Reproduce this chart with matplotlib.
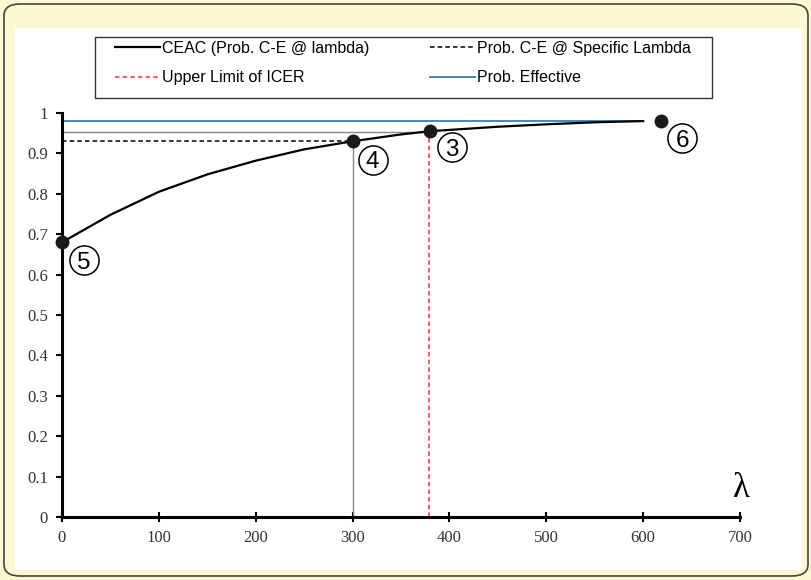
import numpy as np
import matplotlib
matplotlib.use("Agg")
import matplotlib.pyplot as plt
from matplotlib.patches import FancyBboxPatch, Rectangle
from matplotlib.transforms import offset_copy

# CEAC curve
lam = [0, 50, 100, 150, 200, 250, 300, 350, 380, 450, 500, 550, 600]
ceac = [0.68, 0.748, 0.805, 0.848, 0.882, 0.91, 0.93, 0.947, 0.955, 0.966, 0.972, 0.977, 0.98]

# marked points and their labels
pt_x = [380, 300, 0, 618]
pt_y = [0.955, 0.93, 0.68, 0.98]
pt_lab = ["3", "4", "5", "6"]

lam_specific = 300
p_specific = 0.93
icer_limit = 379
p_icer = 0.953
p_effective = 0.98

fig = plt.figure(figsize=(8.12, 5.8), dpi=100)
fig.patch.set_facecolor("#fdf8d2")

# rounded outer frame and white panel
fig.patches.append(Rectangle((15 / 812, 10 / 580), 787 / 812, 542 / 580,
                             transform=fig.transFigure, facecolor="white",
                             edgecolor="none", zorder=-2))
fig.patches.append(FancyBboxPatch((4 / 812, 4 / 580), 804 / 812, 572 / 580,
                                  boxstyle="round,pad=0,rounding_size=0.02",
                                  transform=fig.transFigure, facecolor="none",
                                  edgecolor="#444444", linewidth=1.2, zorder=-1))
# legend frame
fig.patches.append(Rectangle((95 / 812, 1 - 98 / 580), 617 / 812, 61 / 580,
                             transform=fig.transFigure, facecolor="white",
                             edgecolor="#333333", linewidth=1.0, zorder=-1))

ax = fig.add_axes([62 / 812, 1 - 517 / 580, 678 / 812, 404 / 580])
ax.set_facecolor("white")

l1, = ax.plot(lam, ceac, color="black", lw=1.6, zorder=4)
l2, = ax.plot([0, lam_specific], [p_specific, p_specific], color="black", lw=1.1, ls=(0, (3, 2)))
ax.plot([lam_specific, lam_specific], [0, p_specific], color="#888888", lw=1.0)
l3, = ax.plot([icer_limit, icer_limit], [0, p_icer], color="#e8323c", lw=1.1, ls=(0, (3, 2)))
ax.plot([0, icer_limit], [p_icer, p_icer], color="#888888", lw=1.0)
l4, = ax.plot([0, 600], [p_effective, p_effective], color="#4a86b8", lw=1.4)

ax.plot(pt_x, pt_y, "o", color="#1a1a1a", ms=9, clip_on=False, zorder=5)

# circled numbers next to the points
offs = [(15.6, -11.3), (14.4, -13.2), (16, -12.7), (15.6, -12.5)]
for x, y, t, (dx, dy) in zip(pt_x, pt_y, pt_lab, offs):
    tr = offset_copy(ax.transData, fig=fig, x=dx, y=dy, units="points")
    ax.plot([x], [y], "o", ms=21, mfc="white", mec="black", mew=1.1,
            transform=tr, clip_on=False, zorder=6)
    tr2 = offset_copy(ax.transData, fig=fig, x=dx, y=dy - 6.3, units="points")
    ax.text(x, y, t, transform=tr2, fontsize=17.5, ha="center", va="baseline",
            family="Liberation Sans", zorder=7)

ax.set_xlim(0, 700)
ax.set_ylim(0, 1)
ax.set_xticks(range(0, 701, 100))
ax.set_yticks(np.arange(0, 1.01, 0.1))
ax.set_yticklabels(["0"] + ["%.1f" % v for v in np.arange(0.1, 0.95, 0.1)] + ["1"])
for s in ["top", "right"]:
    ax.spines[s].set_visible(False)
for s in ["left", "bottom"]:
    ax.spines[s].set_linewidth(2.2)
ax.tick_params(axis="x", direction="inout", length=7, width=1.5, pad=6)
ax.tick_params(axis="y", direction="out", length=4, width=1.5, pad=6)
for lb in ax.get_xticklabels() + ax.get_yticklabels():
    lb.set_family("Liberation Serif")
    lb.set_fontsize(12)
    lb.set_color("#333333")

ax.text(701, 0.07, "\u03bb", family="Liberation Serif", fontsize=25, ha="center", va="center")

# legend is filled column-wise, so order handles to read row-wise
leg = fig.legend([l1, l3, l2, l4],
                 ["CEAC (Prob. C-E @ lambda)", "Upper Limit of ICER",
                  "Prob. C-E @ Specific Lambda", "Prob. Effective"],
                 ncol=2, loc="upper left", bbox_to_anchor=(115 / 812, 1 - 41 / 580),
                 borderaxespad=0, frameon=False,
                 prop={"family": "Liberation Sans", "size": 11.5},
                 handlelength=2.8, handletextpad=0.15, columnspacing=3.8,
                 borderpad=0, labelspacing=0.9)
fig.savefig("out.png", dpi=100, facecolor=fig.get_facecolor())
